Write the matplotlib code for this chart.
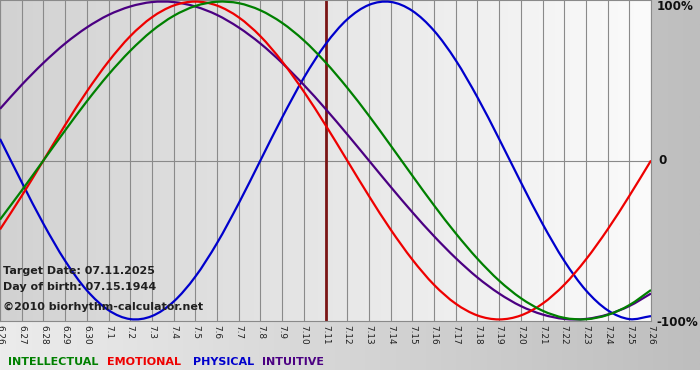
import numpy as np
import matplotlib
matplotlib.use("Agg")
import matplotlib.pyplot as plt
from matplotlib.path import Path
from matplotlib.patches import PathPatch

# dates 6/26 .. 7/26, one value per day
days = ["6.26", "6.27", "6.28", "6.29", "6.30", "7.1", "7.2", "7.3", "7.4", "7.5",
        "7.6", "7.7", "7.8", "7.9", "7.10", "7.11", "7.12", "7.13", "7.14", "7.15",
        "7.16", "7.17", "7.18", "7.19", "7.20", "7.21", "7.22", "7.23", "7.24", "7.25", "7.26"]
physical = [0.136, -0.136, -0.398, -0.631, -0.817, -0.942, -0.998, -0.979, -0.888, -0.731,
            -0.520, -0.270, 0.0, 0.270, 0.520, 0.731, 0.888, 0.979, 0.998, 0.942,
            0.817, 0.631, 0.398, 0.136, -0.136, -0.398, -0.631, -0.817, -0.942, -0.998, -0.979]
emotional = [-0.434, -0.223, 0.0, 0.223, 0.434, 0.623, 0.782, 0.901, 0.975, 1.0,
             0.975, 0.901, 0.782, 0.623, 0.434, 0.223, 0.0, -0.223, -0.434, -0.623,
             -0.782, -0.901, -0.975, -1.0, -0.975, -0.901, -0.782, -0.623, -0.434, -0.223, 0.0]
intellectual = [-0.372, -0.189, 0.0, 0.189, 0.372, 0.541, 0.690, 0.815, 0.910, 0.972,
                0.999, 0.990, 0.945, 0.866, 0.756, 0.618, 0.458, 0.282, 0.095, -0.095,
                -0.282, -0.458, -0.618, -0.756, -0.866, -0.945, -0.990, -0.999, -0.972, -0.910, -0.815]
intuitive = [0.325, 0.476, 0.614, 0.736, 0.837, 0.916, 0.969, 0.997, 0.997, 0.969,
             0.916, 0.837, 0.736, 0.614, 0.476, 0.325, 0.165, 0.0, -0.165, -0.325,
             -0.476, -0.614, -0.736, -0.837, -0.916, -0.969, -0.997, -0.997, -0.969, -0.916, -0.837]
target = "7.11"


def smooth_path(xs, ys):
    # Catmull-Rom through the daily points, drawn as cubic Bezier segments
    p = np.column_stack([xs, ys]).astype(float)
    pts = np.vstack([p[0] - (p[1] - p[0]), p, p[-1] + (p[-1] - p[-2])])
    verts, codes = [tuple(p[0])], [Path.MOVETO]
    for i in range(1, len(pts) - 2):
        p0, p1, p2, p3 = pts[i - 1], pts[i], pts[i + 1], pts[i + 2]
        verts += [tuple(p1 + (p2 - p0) / 6), tuple(p2 - (p3 - p1) / 6), tuple(p2)]
        codes += [Path.CURVE4] * 3
    return Path(verts, codes)


W, H = 700, 380
fig = plt.figure(figsize=(W / 100, H / 100), dpi=100)

# outer background: light left -> grey right, white strip at bottom
bg = fig.add_axes([0, 0, 1, 1], zorder=-10)
grad = np.linspace(0, 1, 256)[None, :]
bg.imshow(grad, cmap=matplotlib.colors.LinearSegmentedColormap.from_list("o", ["#ececec", "#bebebe"]),
          aspect="auto", extent=[0, 1, 10 / H, 1])
bg.set_xlim(0, 1); bg.set_ylim(0, 1); bg.axis("off")

ax = fig.add_axes([0, 1 - 321 / H, 651 / W, 321 / H])
x = np.arange(len(days))
n = len(days) - 1
ax.set_xlim(0, n)
ax.set_ylim(-1.01, 1.01)
ax.imshow(grad, cmap=matplotlib.colors.LinearSegmentedColormap.from_list("p", ["#d2d2d2", "#fbfbfb"]),
          aspect="auto", extent=[0, n, -1.01, 1.01], zorder=0)
for xi in x:
    ax.axvline(xi, color="#8a8a8a", lw=0.8, zorder=1)
ax.axhline(0, color="#8a8a8a", lw=0.8, zorder=1)
ax.axvline(days.index(target), color="#7a1515", lw=2, zorder=2)

for ys, c in [(physical, "#0000cc"), (intuitive, "#4b0082"),
              (emotional, "#ee0000"), (intellectual, "#008000")]:
    ax.add_patch(PathPatch(smooth_path(x, ys), fill=False, edgecolor=c, lw=1.6, zorder=3))

for s in ax.spines.values():
    s.set_color("#8a8a8a"); s.set_linewidth(0.8)
ax.set_yticks([])
ax.set_xticks(x)
ax.set_xticklabels(days, rotation=270, fontsize=6.4, color="#202020", va="top", ha="center")
ax.tick_params(axis="x", length=0, pad=3)

txt = dict(fontsize=8, fontweight="bold", color="#202020", transform=fig.transFigure)
fig.text(3 / W, 1 - 271 / H, "Target Date: 07.11.2025", va="center", **txt)
fig.text(3 / W, 1 - 287 / H, "Day of birth: 07.15.1944", va="center", **txt)
fig.text(3 / W, 1 - 307 / H, "©2010 biorhythm-calculator.net", va="center", **txt)

rt = dict(fontsize=8.6, fontweight="bold", color="#101010", va="center", ha="left")
fig.text(657 / W, 1 - 7 / H, "100%", **rt)
fig.text(658 / W, 1 - 161 / H, "0", **rt)
fig.text(656 / W, 1 - 322 / H, "-100%", **rt)

lg = dict(fontsize=8, fontweight="bold", va="center", ha="left")
fig.text(8 / W, 1 - 362 / H, "INTELLECTUAL", color="#008000", **lg)
fig.text(107 / W, 1 - 362 / H, "EMOTIONAL", color="#ee0000", **lg)
fig.text(193 / W, 1 - 362 / H, "PHYSICAL", color="#0000cc", **lg)
fig.text(262 / W, 1 - 362 / H, "INTUITIVE", color="#4b0082", **lg)

fig.savefig("out.png", dpi=100)
